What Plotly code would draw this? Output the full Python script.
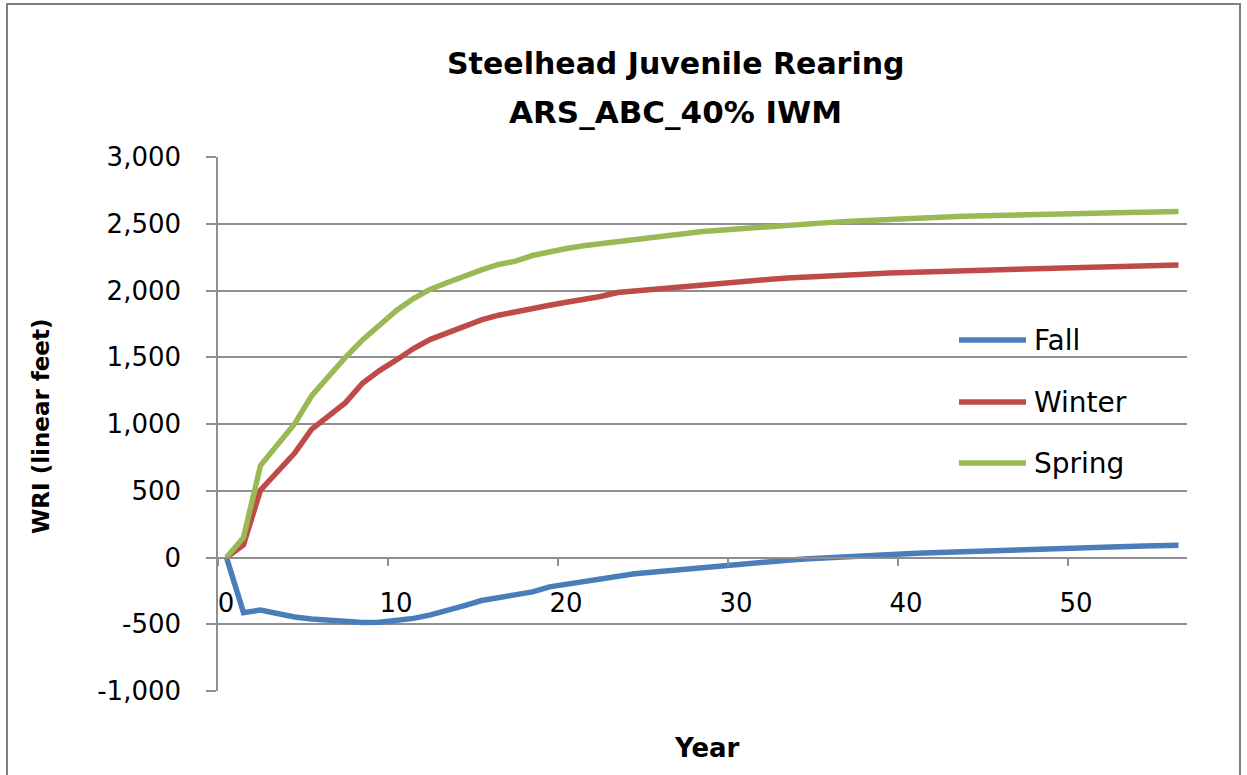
import plotly.graph_objects as go

years = list(range(0, 57))

fall = [0, -413, -393, -420, -445, -460, -472, -481, -486, -485,
        -474, -456, -430, -400, -360, -322, -300, -282, -258, -220,
        -200, -178, -156, -138, -122, -110, -98, -86, -74, -62,
        -50, -38, -28, -20, -12, -4, 4, 10, 16, 22,
        28, 33, 38, 43, 48, 52, 56, 60, 64, 68,
        72, 76, 80, 83, 86, 89, 92]

winter = [0, 95, 505, 640, 780, 960, 1060, 1160, 1305, 1400,
          1480, 1565, 1634, 1685, 1735, 1780, 1815, 1843, 1865, 1890,
          1912, 1930, 1955, 1985, 1997, 2008, 2020, 2030, 2042, 2053,
          2068, 2076, 2085, 2093, 2101, 2108, 2114, 2120, 2127, 2131,
          2134, 2136, 2138, 2143, 2148, 2153, 2157, 2160, 2163, 2166,
          2170, 2174, 2177, 2181, 2184, 2188, 2191]

spring = [0, 150, 690, 850, 1000, 1210, 1360, 1500, 1630, 1745,
          1850, 1940, 2010, 2060, 2110, 2155, 2195, 2220, 2262, 2290,
          2315, 2335, 2350, 2368, 2390, 2403, 2416, 2430, 2442, 2452,
          2462, 2472, 2481, 2490, 2498, 2506, 2514, 2520, 2527, 2533,
          2539, 2544, 2549, 2554, 2558, 2562, 2565, 2568, 2571, 2574,
          2577, 2580, 2583, 2585, 2587, 2589, 2591]

series_names = ["Fall", "Winter", "Spring"]
series_values = [fall, winter, spring]
series_colors = ["#4A7EBB", "#BE4B48", "#98B954"]

x_tick_labels = ["0", "10", "20", "30", "40", "50"]
x_tick_pos = [int(t) - 0.5 for t in x_tick_labels]

y_tick_vals = [-1000, -500, 0, 500, 1000, 1500, 2000, 2500, 3000]
y_tick_labels = ["-1,000", "-500", "0", "500", "1,000", "1,500",
                 "2,000", "2,500", "3,000"]

FONT = "DejaVu Sans"
W, H = 1247, 775
L, R, T, B = 218, 60, 157, 84
pw, ph = W - L - R, H - T - B


def px(x):
    return (x - L) / pw


def py(y):
    return (H - B - y) / ph


fig = go.Figure()
for name, vals, col in zip(series_names, series_values, series_colors):
    fig.add_trace(go.Scatter(x=years, y=vals, mode="lines", name=name,
                             line=dict(color=col, width=5.5), showlegend=False))

grid = "#8f8f8f"
fig.update_layout(
    width=W, height=H,
    margin=dict(l=L, r=R, t=T, b=B),
    paper_bgcolor="white", plot_bgcolor="white",
    font=dict(family=FONT, size=26, color="#000000"),
    xaxis=dict(range=[-0.5, 56.5], tickmode="array", tickvals=x_tick_pos,
               ticktext=x_tick_labels, ticks="outside", ticklen=8, tickwidth=1.5,
               tickcolor=grid, showgrid=False, zeroline=False,
               showline=True, linecolor=grid, linewidth=1.5,
               anchor="free", position=0.25, ticklabelshift=8,
               ticklabelstandoff=15, tickfont=dict(size=26, family=FONT)),
    yaxis=dict(range=[-1000, 3000], tickmode="array", tickvals=y_tick_vals,
               ticktext=y_tick_labels, ticks="outside",
               ticklen=10, tickwidth=1.5, tickcolor=grid, showgrid=True,
               gridcolor=grid, gridwidth=1.5, zeroline=False, showline=True,
               linecolor=grid, linewidth=1.5, ticklabelstandoff=20,
               tickfont=dict(size=26, family=FONT)),
)

annotations = [
    dict(text="<b>Steelhead Juvenile Rearing</b>", x=px(676), y=py(63),
         font=dict(size=30, family=FONT)),
    dict(text="<b>ARS_ABC_40% IWM</b>", x=px(675), y=py(112),
         font=dict(size=31, family=FONT)),
    dict(text="<b>WRI (linear feet)</b>", x=px(41), y=py(427), textangle=-90,
         font=dict(size=23, family=FONT)),
    dict(text="<b>Year</b>", x=px(707), y=py(748),
         font=dict(size=26, family=FONT)),
]
shapes = []
legend_y = [340, 402, 463]
for name, col, ly in zip(series_names, series_colors, legend_y):
    shapes.append(dict(type="line", xref="paper", yref="paper",
                       x0=px(959), x1=px(1026), y0=py(ly), y1=py(ly),
                       line=dict(color=col, width=5.5)))
    annotations.append(dict(text=name, x=px(1032), y=py(ly), xanchor="left",
                            font=dict(size=28, family=FONT)))

for a in annotations:
    a.setdefault("xref", "paper")
    a.setdefault("yref", "paper")
    a.setdefault("showarrow", False)
    a.setdefault("xanchor", "center")
    a.setdefault("yanchor", "middle")

shapes.append(dict(type="rect", xref="paper", yref="paper",
                   x0=px(7), x1=px(1240), y0=py(795), y1=py(4),
                   line=dict(color="#7f7f7f", width=2), layer="below"))

fig.update_layout(annotations=annotations, shapes=shapes)
fig.write_html("out.html",
               config={"displayModeBar": False},
               post_script="document.body.style.margin='0';"
                           "document.body.style.overflow='hidden';")
